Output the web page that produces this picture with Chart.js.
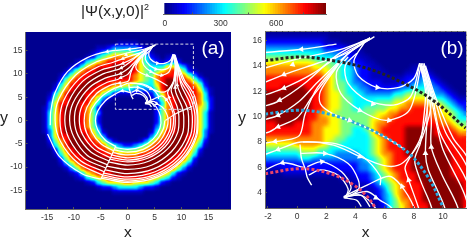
<!DOCTYPE html>
<html><head><meta charset="utf-8">
<style>html,body{margin:0;padding:0;background:#fff;width:471px;height:240px;overflow:hidden}canvas{position:absolute}</style>
<script src="https://cdn.jsdelivr.net/npm/chart.js@4"></script>
</head><body>
<canvas id="cb" width="190" height="30" style="left:155px;top:0"></canvas>
<canvas id="pa" width="235" height="220" style="left:0;top:20px"></canvas>
<canvas id="pb" width="236" height="220" style="left:235px;top:20px"></canvas>
<script>
const levelValues=[15,50,110,215,320,430,540,645,750,860];
const colorbarValues=[7,20,34,48,61,75,88,102,116,129,143,156,170,184,197,211,224,238,252,265,279,292,306,320,333,347,360,374,388,401,415,428,442,456,469,483,496,510,524,537,551,564,578,592,605,619,632,646,660,673,687,700,714,728,741,755,768,782,796,809,823,836,850,864];
const colorbarTicks=[0,300,600];
const ticksA=[-15,-10,-5,0,5,10,15];
const xTicksB=[-2,0,2,4,6,8,10];
const yTicksB=[4,6,8,10,12,14,16];
// panel (a): rows from y=18.5 down to y=-18.5, each "left|right" read outward from x=0 in 1-unit cells
const heatA=[
"0000000000000000000","0000000000000000000","1100000000000000000",
"3332110000000000000|3321000000000000000",
"5554321000000000000|5442100000000000000",
"7776542100000000000|7764210120000000000",
"8888765421000000000|8864321232000000000",
"9998887642100000000|9865444664310000000",
"9999998875310000000|9865456787521000000",
"9999999887531000000|8765578888753100000",
"8888999988752000000|8765478998875310000",
"6778889998864100000|6544468999887520000",
"4456788999875200000|4333358999988631000",
"1124578899986410000|1111246899988741000",
"0001357899987520000|0000135889988742000",
"0000146889988630000|0000014789988752000",
"0000025789998631000|0000025789998652000",
"0000035789998641000|0000025789998641000",
"0000025789998641000",
"0000025789998641000",
"0000035789998641000",
"0000146889998631000",
"0000357899988630000",
"0013578899987520000",
"2345788999986410000",
"5567889999875200000",
"7788899998864100000",
"8889999988752000000",
"9999999887531000000",
"9999998875310000000",
"9998887642100000000",
"8888765421000000000",
"7666542100000000000",
"4432210000000000000",
"1110000000000000000",
"0000000000000000000","0000000000000000000","0000000000000000000"];
// panel (b): rows from y=16.6 down to y=3.0 in 0.4 steps, columns x=-2.0 to 11.6 in 0.4 steps
const heatB=[
"00000000000000000000000000000000000",
"11111111111000000000000000000000000",
"22222222221110000000000000000000000",
"33333333332222110000000000000000000",
"44444444443332211000000000000000000",
"55555555444433221100000000000000000",
"66666666655544322110000000000000000",
"77777777666554432211000001110000000",
"77777777776654432211100011221000000",
"88888888887654432211111122332100000",
"88888888887655433222111223343210000",
"88899998887655443322222334443321000",
"99999999887665444333334455554332100",
"99999999887665544444445566665443211",
"99999999887665544445556677776654322",
"99999999887665544555566778887765432",
"99999998876655555556677888887766543",
"99999998877665555566778888888776544",
"88999888777665555567788888888877655",
"88888888776665544567888899999888766",
"88888888776665544467888899999888877",
"77777777776655444456788899999988888",
"66666777776554444456788899999998888",
"55555566655444444456788899999998888",
"44444455544433334456778899999999888",
"33333344333333333445678889999999888",
"22222222222222223345678889999999888",
"11122222222222223345678889999999888",
"00011111111111122234567888999999888",
"00000000000001112234567888999999988",
"00000000000000011123456788899999998",
"00000000000000001112356788899999998",
"00000000000000000112346788899999998",
"00000000000000000011345778899999998",
"00000000000000000001245678889999998"];
const streamlines=[
[[-5,-12.6],[-8.4,-11.5],[-12.8,-7.6],[-14.9,-2.9]],
[[-14.4,-1],[-14.3,2],[-13.5,6],[-11.2,10.5],[-7.5,13.5],[-3.8,14.8],[.3,15.3],[2.7,15.7]],
[[-4.7,-11.7],[-9.2,-9.2],[-12.5,-4.5],[-13.5,0],[-12.8,4.6],[-9.7,9.7],[-5.8,12.6],[-2.9,13.6],[.25,14.6],[3,15.3],[4.8,16.05]],
[[-4.4,-11],[-8.7,-8.7],[-11.8,-4.3],[-12.6,0],[-11.9,4.3],[-9,9],[-5.4,11.6],[-2.7,12.5],[-.9,13.3],[1.4,14.2],[3.4,15],[5.3,16.3]],
[[-4.1,-10.2],[-8.1,-8.1],[-10.9,-3.9],[-11.7,0],[-11,4],[-8.4,8.4],[-5,10.8],[-2.5,11.6],[-.9,12.25],[.95,13.3],[3,14.85],[5,16.1]],
[[-3.8,-9.5],[-7.5,-7.5],[-10,-3.6],[-10.8,0],[-10.2,3.7],[-7.7,7.7],[-4.6,10],[-2.3,10.8],[-1.3,11.2],[.5,12.6],[2.8,14.9],[5,16.2]],
[[-3.5,-8.7],[-6.8,-6.8],[-9.2,-3.3],[-9.9,0],[-9.4,3.4],[-7.1,7.1],[-4.2,9.1],[-2.1,9.8],[-1.3,10.1],[.15,11.2],[1.4,12.7],[3.4,14.85],[5,16.2]],
[[-3.2,-8],[-6.2,-6.2],[-8.4,-3],[-9,0],[-8.5,3.1],[-6.4,6.4],[-3.8,8.2],[-1.9,8.8],[-1.3,9.2],[0,9.9],[1,11.5],[3.4,14.85],[5,16.2]],
[[-2.9,-7.3],[-5.7,-5.7],[-7.6,-2.8],[-8.1,0],[-7.6,2.8],[-5.8,5.8],[-3.4,7.5],[-2,7.95],[-1,8.1],[.15,8.5],[.55,10.2],[1.4,12.3],[3.4,14.85]],
[[-2.6,-6.5],[-5,-5],[-6.7,-2.4],[-7.1,0],[-6.7,2.4],[-5,5],[-3,6.6],[-1.3,7.4],[.25,8],[2.5,7.75],[4.3,6.85],[5.9,6.15],[6.9,6.15],[7.7,6.85],[8.6,8.4],[9.2,11.3],[8.6,14]],
[[-2.2,-5.6],[-4.2,-4.2],[-5.6,-2],[-6,0],[-5.6,2],[-4.2,4.2],[-2.6,5.5],[-1,6.36],[.47,5.99]],
[[.2,7.8],[.3,6.7],[.55,5.9],[.7,5.2],[1,4.6]],
[[.2,7.1],[1.9,7.1],[3.5,6.3],[4.2,5],[4.2,4.2],[3.3,3.6]],
[[.7,6.05],[1.7,6.45],[3.05,5.65],[3.7,4.45],[3.3,3.6]],
[[.8,5.4],[1.6,5.8],[2.8,5.4],[3.5,4.3],[3.3,3.6]],
[[.4,8],[2.7,7.85],[4.5,6.85],[5.7,5.3],[5.7,4.6]],
[[4.6,15.8],[3.9,14.4],[4.2,13.2],[5.45,12.3],[7,12.3],[8,13],[8.4,14.2]],
[[4.1,15],[3.3,14],[3.5,12.6],[4.8,11.3],[6.6,10.9],[7.8,11.6],[8.4,14.1]],
[[3.5,14.7],[2.7,13.5],[3,11.8],[4.3,10.5],[6.1,9.7],[7.7,10.5],[8.5,14]],
[[2.9,14.2],[1.6,12],[1.6,11],[2.5,10.2],[4.8,9.1],[6.3,8.2],[7.4,7.4]],
[[-2.3,-5.8],[0,-6.2],[2.6,-5.6],[4.7,-4],[6,-1.6],[6.1,.8],[5.3,2.9],[4.4,3.8],[3.2,3.65]],
[[-2.5,-6.3],[0,-6.8],[2.9,-6.2],[5.2,-4.4],[6.6,-1.8],[6.9,0]],
[[-2.7,-6.9],[0,-7.4],[3.1,-6.7],[5.7,-4.8],[7.2,-1.9],[7.5,.4],[7,2],[6.4,2.9],[5.7,3.4],[4.8,4.1],[3.2,3.65]],
[[-3,-7.4],[0,-8],[3.4,-7.3],[6.2,-5.1],[7.8,-2.1],[8,.5]],
[[-3.1,-7.9],[0,-8.5],[3.6,-7.7],[6.5,-5.5],[8.2,-2.2],[8.5,.8],[8,2.9],[7.1,4.6],[6.3,5.3],[4.8,4.6],[3.2,3.7]],
[[-3.3,-8.3],[0,-8.9],[3.7,-8.1],[6.9,-5.7],[8.6,-2.3],[8.8,.9],[8.3,2.9],[7.65,5],[7.4,5.9],[7.5,6.3],[8.4,8.15],[8.8,9.74],[9,12],[8.5,14]],
[[-3.6,-8.9],[0,-9.6],[4,-8.7],[7.4,-6.1],[9.3,-2.5],[9.5,.9],[9.2,2.9],[8.55,4.7],[8.1,6.2],[8.1,6.84],[8.45,7.9],[8.67,9.74],[8.8,12],[8.4,14.2]],
[[-3.9,-9.8],[0,-10.5],[4.4,-9.6],[8.1,-6.7],[10.2,-2.7],[10.4,.9],[10.1,2.9],[9,5.8],[8.8,7.1],[8.9,9.74],[8.9,12],[8.4,14.2]],
[[-4.2,-10.6],[0,-11.4],[4.8,-10.4],[8.8,-7.3],[11.1,-3],[11.3,.9],[11,2.9],[9.9,5.5],[9.2,7.6],[9.2,9.74],[9,12],[8.5,14.2]],
[[-4.5,-11.3],[0,-12.1],[5.1,-11],[9.3,-7.8],[11.7,-3.1],[12,.9],[11.5,3.8],[10,7.4],[9.5,9.74],[9.1,12],[8.6,14.2]],
[[-4.7,-11.7],[0,-12.6],[5.3,-11.5],[9.7,-8.1],[12.2,-3.3],[12.5,.9],[12.2,3],[11.5,5.25],[9.8,8.7],[9.3,11.5],[8.7,14.2]],
[[-4.8,-12.1],[0,-13],[5.5,-11.8],[10,-8.4],[12.6,-3.4],[12.9,1],[12.5,3.5],[11.5,6.4],[10.2,8.7],[9.4,11.5],[8.7,14.1]],
[[-4.9,-12.4],[0,-13.3],[5.6,-12.1],[10.2,-8.5],[12.8,-3.4],[13,1.5],[12.5,5],[11.5,7.1],[10.7,8.3],[9.5,11.5],[8.8,14]],
[[-5,-12.6],[-2.2,-5.4]],
[[7,0],[9,1.5],[12,3]],
[[3.2,3.65],[4.4,3.8],[5,2.9]],
[[3.2,3.6],[4.1,3.4],[4.4,2.9]]
];
const arrowXY=[[-3.8,14.8],[.3,15.3],[-.3,14.1],[-.9,13.3],[-.9,12.25],[-1.2,11.3],[-1.3,10.1],[-1.3,9.2],[-1.5,8.05],[-1.3,7.4],[-1,6.36],[5.5,12.3],[5.2,11],[4.3,10.5],[3.6,9.7],[4.3,6.85],[1.9,7.1],[1.7,6.45],[7.65,5],[8.8,7.1],[9.2,7.6],[7.2,4.5],[5.4,3.6],[6.3,9.7]];
const arrowAngle=[260,265,250,245,250,250,250,250,260,250,255,95,100,110,110,115,90,80,345,0,0,340,120,100];
const dotsBlack=[[-2.2,14.4],[.25,14.7],[2.5,14.4],[4.8,13.8],[7,12.8],[9.3,11.3],[11.55,9.1]];
const dotsBlue=[[-2.2,10.2],[.25,10.5],[2.5,10.1],[4.8,9.1],[6.6,8],[7.9,6.85],[9.1,5],[10,2.9]];
const dotsRed=[[-2.2,5.5],[.25,5.9],[2.3,5.5],[3.9,4.6],[4.8,3.7],[5.35,2.85]];
const zoomBox=[[-2.3,16.4],[12.2,16.4],[12.2,2.4],[-2.3,2.4],[-2.3,16.4]];

const FONT='"Liberation Sans",Arial,sans-serif';
const VMAX=868;
const cl=v=>Math.max(0,Math.min(1,v));
function jetRGB(t){return [cl(Math.min(4*t-1.5,4.5-4*t))*255,cl(Math.min(4*t-.5,3.5-4*t))*255,cl(Math.min(4*t+.5,2.5-4*t))*255].map(Math.round);}
const jet=v=>`rgb(${jetRGB(v/VMAX).join(',')})`;
const gray=v=>{const g=Math.round(v/VMAX*255);return `rgb(${g},${g},${g})`;};
const pt=a=>a.map(p=>({x:p[0],y:p[1]}));
function heatACells(){const out=[];heatA.forEach((row,k)=>{const [l,r0]=row.split('|');const r=r0||l;const y=18.5-k;
 for(let i=0;i<19;i++){out.push({x:-(i+.5),y,v:levelValues[+l[i]]});out.push({x:i+.5,y,v:levelValues[+r[i]]});}});return out;}
function heatBCells(){const out=[];heatB.forEach((row,k)=>{const y=16.6-.4*k;
 for(let i=0;i<35;i++)out.push({x:-2+.4*i,y,v:levelValues[+row[i]]});});return out;}
// the cells are drawn by the library as intensities, smoothed, then coloured with the jet map
function heatPlugin(px){return{id:'heatMap',afterDatasetDraw(c,a){if(!c.data.datasets[a.index].heat)return;
 const s=c.chartArea,x=c.ctx,L=Math.round(s.left),T=Math.round(s.top),W=Math.round(s.right-s.left),H=Math.round(s.bottom-s.top);
 x.save();x.beginPath();x.rect(L,T,W,H);x.clip();x.filter=`blur(${px}px)`;x.drawImage(c.canvas,L,T,W,H,L,T,W,H);x.restore();
 const im=x.getImageData(L,T,W,H),d=im.data;
 for(let i=0;i<d.length;i+=4){const q=jetRGB(d[i]/255);d[i]=q[0];d[i+1]=q[1];d[i+2]=q[2];d[i+3]=255;}
 x.putImageData(im,L,T);}};}
function textPlugin(items){return{id:'labels',afterDraw(c){const x=c.ctx;x.save();x.textAlign='center';x.textBaseline='middle';
 items.forEach(t=>{x.font=`${t.s}px ${FONT}`;x.fillStyle=t.c;x.fillText(t.t,t.x,t.y);});x.restore();}};}
function axis(pos,min,max,ticks,size){return{type:'linear',position:pos,min,max,
 afterBuildTicks:s=>{s.ticks=ticks.map(v=>({value:v}));},
 afterFit:s=>{if(pos==='left')s.width=size;else s.height=size;},
 border:{display:true,color:'#666',width:1,z:2},
 grid:{drawOnChartArea:false,tickLength:-2,color:'#555',z:2},
 ticks:{autoSkip:false,maxRotation:0,padding:pos==='left'?5:6,color:'#333',font:{family:FONT,size:8.5},callback:v=>String(v)}};}
function panel(id,cells,radius,blur,lw,arrowR,extra,scales,pad,texts){
 const ds=[{heat:true,order:10,data:cells,pointStyle:'rect',pointRadius:radius,pointBorderWidth:0,pointHoverRadius:radius,
   pointBackgroundColor:cells.map(c=>gray(c.v)),showLine:false}];
 streamlines.forEach(l=>ds.push({order:5,data:pt(l),showLine:true,tension:.3,borderColor:'#fff',borderWidth:lw,pointRadius:0}));
 extra.forEach(e=>ds.push(e));
 ds.push({order:1,data:pt(arrowXY),pointStyle:'triangle',pointRadius:arrowR,pointBorderWidth:0,pointBackgroundColor:'#fff',pointRotation:arrowAngle,showLine:false});
 scales.x.title={display:true,text:'x',color:'#222',font:{family:FONT,size:15.5},padding:{top:0,bottom:-2}};
 new Chart(document.getElementById(id),{type:'scatter',data:{datasets:ds},plugins:[heatPlugin(blur),textPlugin(texts)],
  options:{responsive:false,animation:false,events:[],layout:{padding:pad},scales,
   plugins:{legend:{display:false},tooltip:{enabled:false},title:{display:false}}}});
}
panel('pa',heatACells(),4.3,1.7,1.25,2.4,
 [{order:3,data:pt(zoomBox),showLine:true,tension:0,borderColor:'#dcdce8',borderWidth:1,borderDash:[3,2],pointRadius:0}],
 {x:axis('bottom',-19,19,ticksA,31),y:axis('left',-19,19,ticksA,25.5)},{top:12,right:5,left:0,bottom:0},
 [{t:'y',x:4,y:99,s:16,c:'#222'},{t:'(a)',x:213,y:29,s:19,c:'#fff'}]);
panel('pb',heatBCells(),4.7,2.2,1.35,3.4,
 [{order:2,data:pt(dotsBlack),showLine:true,tension:.35,borderColor:'#222',borderWidth:3,borderDash:[3,2.2],pointRadius:0},
  {order:2,data:pt(dotsBlue),showLine:true,tension:.35,borderColor:'#2aa7df',borderWidth:3,borderDash:[3,2.2],pointRadius:0},
  {order:2,data:pt(dotsRed),showLine:true,tension:.35,borderColor:'#ea4468',borderWidth:3,borderDash:[3,2.2],pointRadius:0}],
 {x:axis('bottom',-2.2,11.6,xTicksB,32),y:axis('left',2.8,16.7,yTicksB,30)},{top:11.5,right:2,left:0,bottom:0},
 [{t:'y',x:7,y:99,s:16,c:'#222'},{t:'(b)',x:217,y:29,s:19,c:'#fff'}]);
// colour bar
new Chart(document.getElementById('cb'),{type:'bar',
 data:{datasets:[{data:colorbarValues.map(v=>({x:v,y:1})),backgroundColor:colorbarValues.map(jet),barThickness:3.2,borderWidth:0}]},
 options:{responsive:false,animation:false,events:[],layout:{padding:{left:0,right:19,top:3,bottom:0}},
  scales:{x:Object.assign(axis('bottom',-9,869,colorbarTicks,15.5),{offset:false}),
          y:{type:'linear',min:0,max:1,position:'left',display:false,afterFit:s=>{s.width=8.3}}},
  plugins:{legend:{display:false},tooltip:{enabled:false}}}});
</script>
<div style="position:absolute;left:81px;top:1px;font:15.5px/20px 'Liberation Sans',Arial,sans-serif;color:#222;white-space:nowrap">|Ψ(x,y,0)|<sup style="font-size:9px;line-height:0">2</sup></div>
</body></html>
